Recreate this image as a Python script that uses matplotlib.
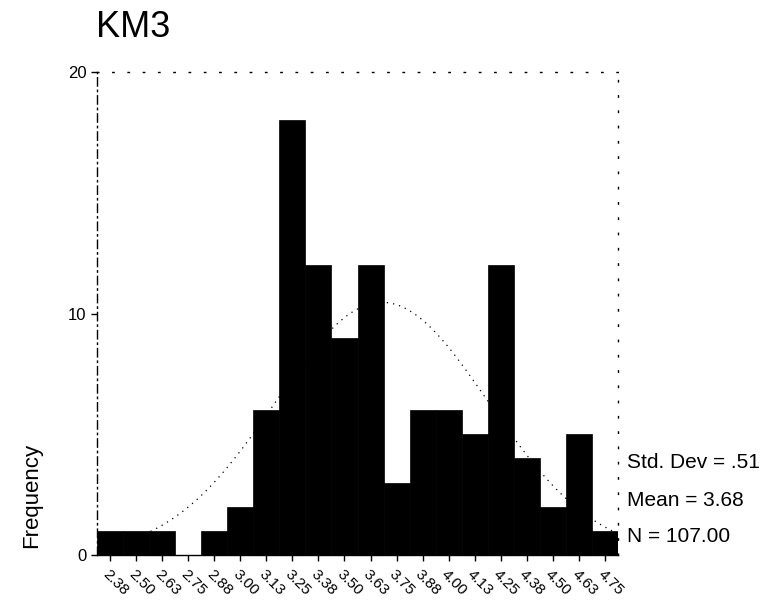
import numpy as np
import matplotlib
matplotlib.use("Agg")
import matplotlib.pyplot as plt

# ---- data ----
bin_centers = [2.375, 2.5, 2.625, 2.75, 2.875, 3.0, 3.125, 3.25, 3.375, 3.5,
               3.625, 3.75, 3.875, 4.0, 4.125, 4.25, 4.375, 4.5, 4.625, 4.75]
counts = [1, 1, 1, 0, 1, 2, 6, 18, 12, 9, 12, 3, 6, 6, 5, 12, 4, 2, 5, 1]
tick_labels = ["2.38", "2.50", "2.63", "2.75", "2.88", "3.00", "3.13", "3.25",
               "3.38", "3.50", "3.63", "3.75", "3.88", "4.00", "4.13", "4.25",
               "4.38", "4.50", "4.63", "4.75"]
bin_width = 0.125
std_dev = 0.51
mean = 3.68
n_total = 107
title = "KM3"
stats = ["Std. Dev = .51", "Mean = 3.68", "N = 107.00"]

plt.rcParams['font.family'] = ['Liberation Sans', 'DejaVu Sans']

W, H = 765, 609
fig = plt.figure(figsize=(W / 100, H / 100), dpi=100)
fig.patch.set_facecolor("white")
ax = fig.add_axes([97 / W, 1 - 555 / H, (618 - 97) / W, (555 - 72) / H])

ax.bar(bin_centers, counts, width=bin_width, color="black", edgecolor="black",
       linewidth=0.5, align="center")

lo = bin_centers[0] - bin_width / 2
hi = bin_centers[-1] + bin_width / 2
xs = np.linspace(lo, hi, 400)
ys = n_total * bin_width / (std_dev * np.sqrt(2 * np.pi)) * np.exp(-0.5 * ((xs - mean) / std_dev) ** 2)
ax.plot(xs, ys, color="black", linestyle=(0, (1, 4)), linewidth=0.9)

ax.set_xlim(lo, hi)
ax.set_ylim(0, 20)
ax.set_yticks([0, 10, 20])
ax.set_yticklabels(["0", "10", "20"], fontsize=12)
ax.set_xticks(bin_centers)
ax.set_xticklabels(tick_labels, rotation=-45, ha="left", rotation_mode="anchor",
                   fontsize=11)
ax.tick_params(axis="both", direction="out", length=4, width=1, colors="black")
ax.tick_params(axis="x", pad=5)

ax.spines["left"].set_linestyle((0, (6, 3, 1, 3)))
ax.spines["left"].set_linewidth(1)
ax.spines["top"].set_linestyle((0, (1, 10)))
ax.spines["right"].set_linestyle((0, (1, 10)))
ax.spines["top"].set_linewidth(1)
ax.spines["right"].set_linewidth(1)
ax.spines["bottom"].set_linewidth(1)

fig.text(96 / W, 1 - 37 / H, title, fontsize=26, ha="left", va="baseline")
fig.text(32 / W, 1 - 495 / H, "Frequency", fontsize=16, rotation=90,
         ha="center", va="center")
for i, s in enumerate(stats):
    fig.text(627 / W, 1 - (463 + 37 * i) / H, s, fontsize=15, ha="left", va="center")

fig.savefig("out.png", dpi=100, facecolor="white")
